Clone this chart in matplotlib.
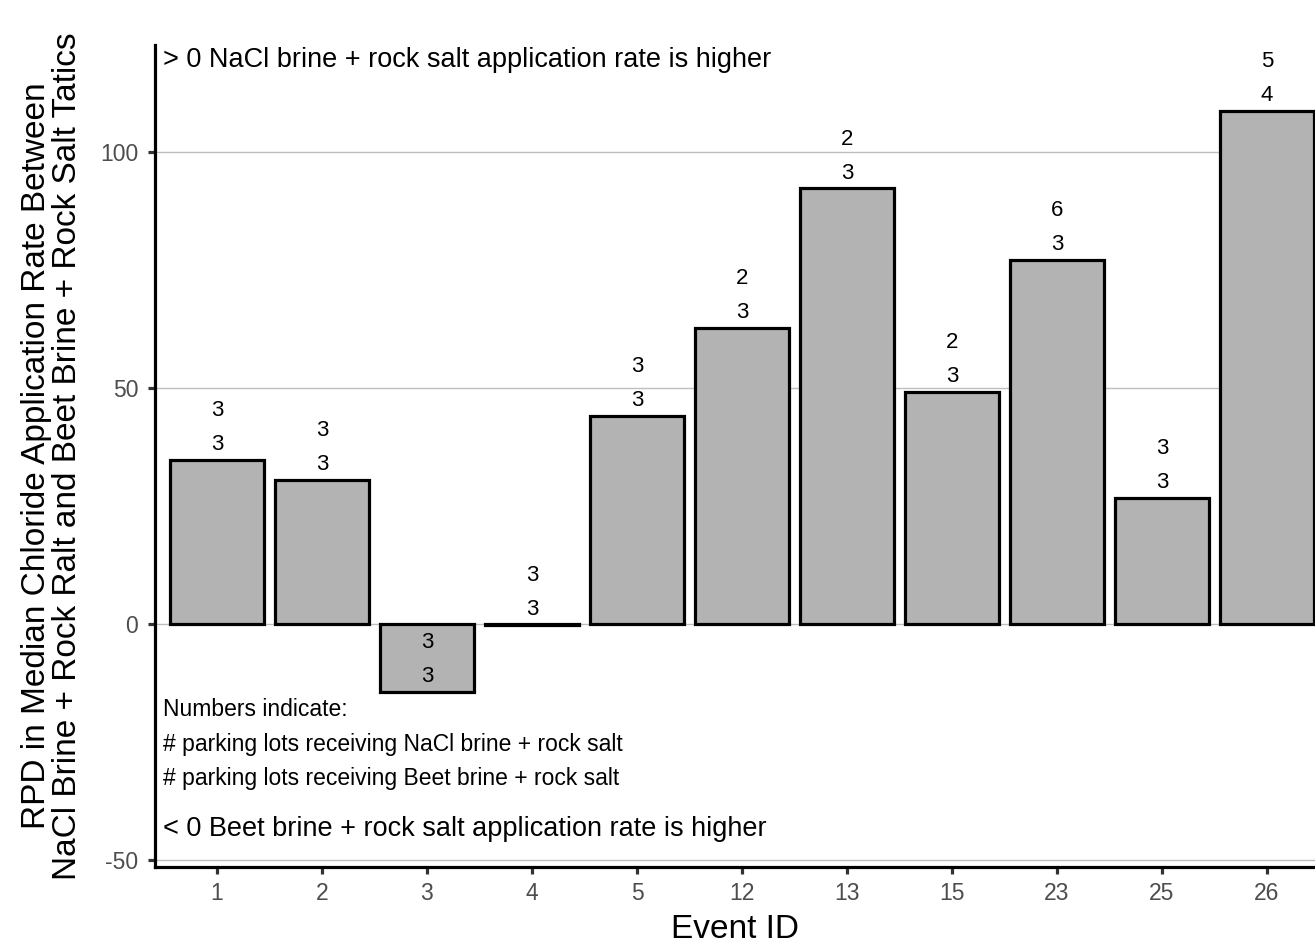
import matplotlib
matplotlib.use("Agg")
import matplotlib.pyplot as plt

plt.rcParams['font.family'] = ['Liberation Sans', 'DejaVu Sans']
plt.rcParams['axes.unicode_minus'] = False

# data
event_ids = ['1', '2', '3', '4', '5', '12', '13', '15', '23', '25', '26']
rpd = [34.7, 30.5, -14.4, -0.2, 44.1, 62.7, 92.3, 49.2, 77.1, 26.7, 108.7]
n_nacl = [3, 3, 3, 3, 3, 2, 2, 2, 6, 3, 5]
n_beet = [3, 3, 3, 3, 3, 3, 3, 3, 3, 3, 4]
y_ticks = [-50, 0, 50, 100]

fig = plt.figure(figsize=(13.15, 9.48), dpi=100)
ax = fig.add_axes([155 / 1315, (948 - 867) / 948, 1 - 155 / 1315, (867 - 45) / 948])

x = list(range(1, len(event_ids) + 1))

for yt in y_ticks:
    ax.axhline(yt, color='#bebebe', lw=1.0, zorder=0)

ax.bar(x, rpd, width=0.9, color='#b3b3b3', edgecolor='black', linewidth=2.3, zorder=2)

# top number = NaCl lots, bottom number = beet lots
for xi, v, a, b in zip(x, rpd, n_nacl, n_beet):
    ax.annotate(str(b), (xi, v), xytext=(0, 11), textcoords='offset points',
                ha='center', va='center', fontsize=16, zorder=3)
    ax.annotate(str(a), (xi, v), xytext=(0, 35.5), textcoords='offset points',
                ha='center', va='center', fontsize=16, zorder=3)

ax.text(0.49, 119.5, '> 0 NaCl brine + rock salt application rate is higher',
        ha='left', va='center', fontsize=19.5)
ax.text(0.49, -43.4, '< 0 Beet brine + rock salt application rate is higher',
        ha='left', va='center', fontsize=19.5)
ax.text(0.49, -18.2, 'Numbers indicate:', ha='left', va='center', fontsize=16.5)
ax.text(0.49, -25.6, '# parking lots receiving NaCl brine + rock salt',
        ha='left', va='center', fontsize=16.5)
ax.text(0.49, -32.8, '# parking lots receiving Beet brine + rock salt',
        ha='left', va='center', fontsize=16.5)

ax.set_xlim(0.41, 11.457)
ax.set_ylim(-51.5, 122.7)
ax.set_xticks(x)
ax.set_xticklabels(event_ids)
ax.set_yticks(y_ticks)

for s in ['top', 'right']:
    ax.spines[s].set_visible(False)
for s in ['left', 'bottom']:
    ax.spines[s].set_linewidth(2.3)
    ax.spines[s].set_color('black')
ax.tick_params(axis='both', length=5, width=2.3, color='#333333',
               labelsize=16.5, labelcolor='#4d4d4d')
ax.tick_params(axis='x', pad=6)
ax.tick_params(axis='y', pad=7)

ax.set_xlabel('Event ID', fontsize=24, labelpad=6)
ax.set_ylabel('RPD in Median Chloride Application Rate Between\n'
              'NaCl Brine + Rock Ralt and Beet Brine + Rock Salt Tatics',
              fontsize=24, labelpad=12, linespacing=1.0)

fig.savefig('out.png', dpi=100)
